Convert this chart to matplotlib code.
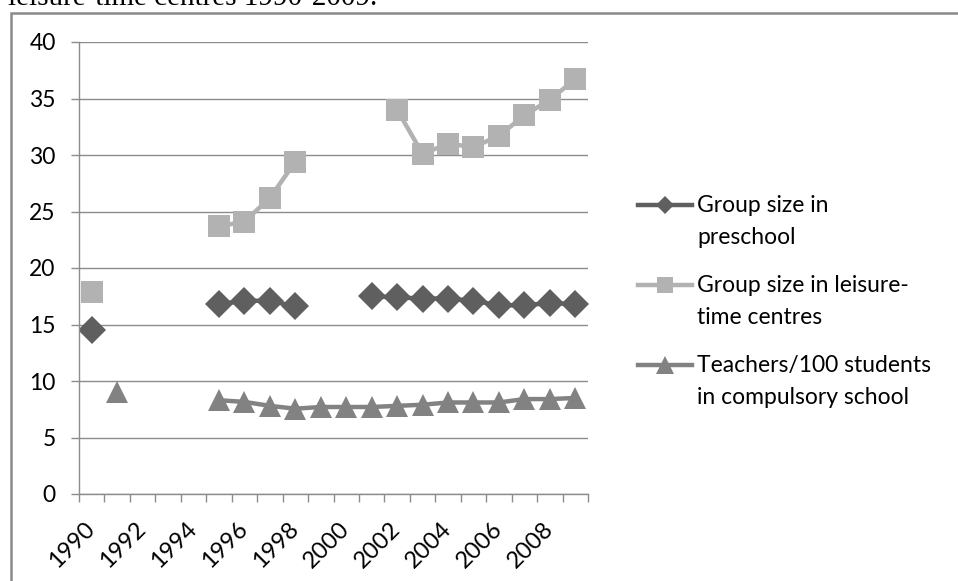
import matplotlib
matplotlib.use('Agg')
import matplotlib.pyplot as plt
from matplotlib.lines import Line2D
from matplotlib.patches import Rectangle
import numpy as np

nan = np.nan

# Data (gaps = missing years)
years = ['1990', '1991', '1992', '1993', '1994', '1995', '1996', '1997', '1998', '1999',
         '2000', '2001', '2002', '2003', '2004', '2005', '2006', '2007', '2008', '2009']
preschool = [14.5, nan, nan, nan, nan, 16.8, 17.1, 17.1, 16.6, nan,
             nan, 17.5, 17.4, 17.3, 17.3, 17.1, 16.7, 16.7, 16.9, 16.8]
leisure = [17.9, nan, nan, nan, nan, 23.7, 24.1, 26.2, 29.4, nan,
           nan, nan, 34.0, 30.1, 31.0, 30.7, 31.7, 33.5, 34.9, 36.7]
teachers = [nan, 9.0, nan, nan, nan, 8.3, 8.15, 7.8, 7.55, 7.7,
            7.7, 7.7, 7.8, 7.9, 8.1, 8.1, 8.1, 8.4, 8.4, 8.5]
labels = ['Group size in\npreschool',
          'Group size in leisure-\ntime centres',
          'Teachers/100 students\nin compulsory school']
yticks = [0, 5, 10, 15, 20, 25, 30, 35, 40]

W, H = 958, 581
FONT = 'Lato'
FS = 16.5
c_pre = '#5f5f5f'
c_lei = '#b2b2b2'
c_tea = '#828282'
grid_c = '#8c8c8c'


def fx(px):
    return px / W


def fy(py):
    return 1 - py / H


fig = plt.figure(figsize=(W / 100, H / 100), dpi=100)

# outer frame of the chart (cut by the screenshot on right/bottom)
fig.add_artist(Rectangle((fx(11), fy(H + 20)), 2, fy(12.5) - fy(H + 20),
                         transform=fig.transFigure, fill=False,
                         edgecolor='#8a8a8a', linewidth=1.8))

# cut-off caption line above the chart
fig.text(fx(8), fy(5), 'leisure-time centres 1990-2009.', family='Liberation Serif',
         fontsize=21, ha='left', va='baseline', color='black')

ax = fig.add_axes([fx(79), fy(494), fx(588) - fx(79), fy(42) - fy(494)])
x = np.arange(len(years))

ax.plot(x, preschool, color=c_pre, lw=3.2, marker='D', ms=14, mec=c_pre, mew=0)
ax.plot(x, leisure, color=c_lei, lw=3.2, marker='s', ms=15.5, mec=c_lei, mew=0)
ax.plot(x, teachers, color=c_tea, lw=3.2, marker='^', ms=16.5, mec=c_tea, mew=0)

ax.set_xlim(-0.5, len(years) - 0.5)
ax.set_ylim(0, 40)
ax.set_yticks(yticks)
ax.set_yticklabels([str(v) for v in yticks], family=FONT, fontsize=FS)
ax.tick_params(axis='y', length=5.8, width=1, color=grid_c, pad=11)

ax.set_xticks(x[::2])
ax.set_xticklabels(years[::2], rotation=45, ha='right', va='center',
                   rotation_mode='anchor', family=FONT, fontsize=17)
ax.set_xticks(np.arange(len(years) + 1) - 0.5, minor=True)
ax.tick_params(axis='x', which='major', length=0, pad=23)
ax.tick_params(axis='x', which='minor', length=5.8, width=1, color=grid_c)

ax.yaxis.grid(True, color=grid_c, lw=1)
ax.set_axisbelow(True)
for s in ['top', 'right']:
    ax.spines[s].set_visible(False)
for s in ['left', 'bottom']:
    ax.spines[s].set_color(grid_c)
    ax.spines[s].set_linewidth(1)

# legend drawn by hand so the symbol sits on the first text line
leg = [(c_pre, 'D', 9, 205), (c_lei, 's', 12, 285), (c_tea, '^', 13, 365)]
for (col, mk, size, ly), lab in zip(leg, labels):
    fig.add_artist(Line2D([fx(638), fx(665), fx(692)], [fy(ly)] * 3,
                          transform=fig.transFigure, color=col, lw=3.2,
                          marker=mk, ms=size, mew=0, markevery=[1]))
    first, second = lab.split('\n')
    fig.text(fx(697), fy(ly + 7), first, family=FONT, fontsize=FS, va='baseline')
    fig.text(fx(697), fy(ly + 38.5), second, family=FONT, fontsize=FS, va='baseline')

fig.savefig('out.png', dpi=100)
